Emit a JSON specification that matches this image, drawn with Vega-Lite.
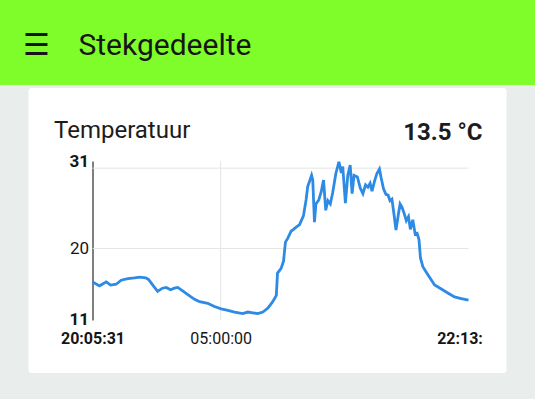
{
  "$schema": "https://vega.github.io/schema/vega-lite/v6.json",
  "background": "#e9eeec",
  "padding": 0,
  "spacing": 3,
  "center": true,
  "config": {"font": "Roboto", "view": {"stroke": null}},
  "vconcat": [
    {
      "width": 535,
      "height": 85,
      "view": {"fill": "#7ffd2b", "stroke": null},
      "title": {"text": "☰ \u00a0\u00a0\u2009Stekgedeelte", "anchor": "start", "frame": "group", "orient": "top", "offset": -85, "baseline": "alphabetic", "dx": 23, "fontSize": 30, "fontWeight": "normal", "font": "Roboto", "color": "#161616"},
      "data": {"values": [{"s": ""}]},
      "mark": "text",
      "encoding": {"text": {"field": "s"}}
    },
    {
      "spacing": 23,
      "center": true,
      "vconcat": [
        {
          "width": 478,
          "height": 285,
          "view": {"fill": "#ffffff", "stroke": null, "cornerRadius": 3},
          "title": {"text": "13.5 °C", "anchor": "end", "frame": "group", "orient": "top", "offset": -76, "baseline": "alphabetic", "dx": -24, "fontSize": 24, "fontWeight": "bold", "font": "Roboto", "color": "#1c1c1c"},
          "layer": [
            {
              "data": {"values": [{"v": 30.1}, {"v": 20}]},
              "mark": {"type": "rule", "color": "#e4e4e4", "strokeWidth": 1},
              "encoding": {
                "x": {"datum": {"year": 2019, "month": 5, "date": 13, "hours": 20, "minutes": 5, "seconds": 31}, "type": "temporal"},
                "x2": {"datum": {"year": 2019, "month": 5, "date": 14, "hours": 22, "minutes": 13, "seconds": 19}},
                "y": {"field": "v", "type": "quantitative"}
              }
            },
            {
              "data": {"values": [{"t": "2019-05-14T05:00:00"}]},
              "mark": {"type": "rule", "color": "#e4e4e4", "strokeWidth": 1},
              "encoding": {
                "x": {"field": "t", "type": "temporal"},
                "y": {"datum": 11, "type": "quantitative"},
                "y2": {"datum": 31}
              }
            },
            {
              "data": {"values": [
                {"t": "2019-05-13T20:05:31", "v": 15.8},
                {"t": "2019-05-13T20:28:00", "v": 15.4},
                {"t": "2019-05-13T20:35:00", "v": 15.3},
                {"t": "2019-05-13T21:03:00", "v": 15.8},
                {"t": "2019-05-13T21:21:00", "v": 15.4},
                {"t": "2019-05-13T21:44:00", "v": 15.5},
                {"t": "2019-05-13T22:05:00", "v": 16.0},
                {"t": "2019-05-13T22:33:00", "v": 16.2},
                {"t": "2019-05-13T23:01:00", "v": 16.3},
                {"t": "2019-05-13T23:22:00", "v": 16.4},
                {"t": "2019-05-13T23:47:00", "v": 16.3},
                {"t": "2019-05-13T23:59:00", "v": 16.1},
                {"t": "2019-05-14T00:17:00", "v": 15.4},
                {"t": "2019-05-14T00:37:00", "v": 14.6},
                {"t": "2019-05-14T00:57:00", "v": 15.0},
                {"t": "2019-05-14T01:13:00", "v": 15.1},
                {"t": "2019-05-14T01:31:00", "v": 14.8},
                {"t": "2019-05-14T01:47:00", "v": 15.0},
                {"t": "2019-05-14T02:01:00", "v": 15.1},
                {"t": "2019-05-14T02:20:00", "v": 14.7},
                {"t": "2019-05-14T02:43:00", "v": 14.2},
                {"t": "2019-05-14T03:11:00", "v": 13.6},
                {"t": "2019-05-14T03:32:00", "v": 13.3},
                {"t": "2019-05-14T04:06:00", "v": 13.1},
                {"t": "2019-05-14T04:34:00", "v": 12.7},
                {"t": "2019-05-14T05:02:00", "v": 12.4},
                {"t": "2019-05-14T05:30:00", "v": 12.2},
                {"t": "2019-05-14T05:58:00", "v": 12.0},
                {"t": "2019-05-14T06:32:00", "v": 11.8},
                {"t": "2019-05-14T06:53:00", "v": 12.0},
                {"t": "2019-05-14T07:14:00", "v": 11.9},
                {"t": "2019-05-14T07:35:00", "v": 11.8},
                {"t": "2019-05-14T07:56:00", "v": 12.0},
                {"t": "2019-05-14T08:17:00", "v": 12.5},
                {"t": "2019-05-14T08:37:00", "v": 13.3},
                {"t": "2019-05-14T08:52:00", "v": 14.1},
                {"t": "2019-05-14T08:57:00", "v": 16.9},
                {"t": "2019-05-14T09:12:00", "v": 17.5},
                {"t": "2019-05-14T09:22:00", "v": 18.4},
                {"t": "2019-05-14T09:30:00", "v": 20.8},
                {"t": "2019-05-14T09:40:00", "v": 21.3},
                {"t": "2019-05-14T09:54:00", "v": 22.2},
                {"t": "2019-05-14T10:04:00", "v": 22.4},
                {"t": "2019-05-14T10:15:00", "v": 22.7},
                {"t": "2019-05-14T10:29:00", "v": 23.0},
                {"t": "2019-05-14T10:45:00", "v": 24.1},
                {"t": "2019-05-14T10:56:00", "v": 26.1},
                {"t": "2019-05-14T11:03:00", "v": 27.8},
                {"t": "2019-05-14T11:10:00", "v": 28.4},
                {"t": "2019-05-14T11:19:00", "v": 29.2},
                {"t": "2019-05-14T11:24:00", "v": 28.6},
                {"t": "2019-05-14T11:31:00", "v": 23.3},
                {"t": "2019-05-14T11:37:00", "v": 25.6},
                {"t": "2019-05-14T11:49:00", "v": 26.1},
                {"t": "2019-05-14T11:59:00", "v": 27.1},
                {"t": "2019-05-14T12:09:00", "v": 28.6},
                {"t": "2019-05-14T12:18:00", "v": 24.8},
                {"t": "2019-05-14T12:27:00", "v": 26.0},
                {"t": "2019-05-14T12:37:00", "v": 25.6},
                {"t": "2019-05-14T12:47:00", "v": 27.0},
                {"t": "2019-05-14T13:00:00", "v": 29.4},
                {"t": "2019-05-14T13:13:00", "v": 30.9},
                {"t": "2019-05-14T13:23:00", "v": 29.5},
                {"t": "2019-05-14T13:29:00", "v": 30.3},
                {"t": "2019-05-14T13:40:00", "v": 25.7},
                {"t": "2019-05-14T13:50:00", "v": 29.2},
                {"t": "2019-05-14T14:00:00", "v": 30.5},
                {"t": "2019-05-14T14:08:00", "v": 26.9},
                {"t": "2019-05-14T14:16:00", "v": 29.2},
                {"t": "2019-05-14T14:30:00", "v": 29.0},
                {"t": "2019-05-14T14:42:00", "v": 27.6},
                {"t": "2019-05-14T14:53:00", "v": 26.9},
                {"t": "2019-05-14T15:04:00", "v": 28.0},
                {"t": "2019-05-14T15:14:00", "v": 27.7},
                {"t": "2019-05-14T15:23:00", "v": 28.2},
                {"t": "2019-05-14T15:31:00", "v": 27.2},
                {"t": "2019-05-14T15:41:00", "v": 28.4},
                {"t": "2019-05-14T15:51:00", "v": 29.4},
                {"t": "2019-05-14T16:02:00", "v": 30.0},
                {"t": "2019-05-14T16:09:00", "v": 28.9},
                {"t": "2019-05-14T16:19:00", "v": 27.5},
                {"t": "2019-05-14T16:29:00", "v": 26.8},
                {"t": "2019-05-14T16:38:00", "v": 26.7},
                {"t": "2019-05-14T16:46:00", "v": 26.0},
                {"t": "2019-05-14T16:54:00", "v": 26.2},
                {"t": "2019-05-14T17:03:00", "v": 24.2},
                {"t": "2019-05-14T17:11:00", "v": 22.3},
                {"t": "2019-05-14T17:21:00", "v": 24.3},
                {"t": "2019-05-14T17:28:00", "v": 25.6},
                {"t": "2019-05-14T17:36:00", "v": 25.2},
                {"t": "2019-05-14T17:44:00", "v": 24.5},
                {"t": "2019-05-14T17:54:00", "v": 23.5},
                {"t": "2019-05-14T18:03:00", "v": 24.0},
                {"t": "2019-05-14T18:11:00", "v": 22.4},
                {"t": "2019-05-14T18:21:00", "v": 23.6},
                {"t": "2019-05-14T18:31:00", "v": 21.8},
                {"t": "2019-05-14T18:39:00", "v": 21.9},
                {"t": "2019-05-14T18:47:00", "v": 21.1},
                {"t": "2019-05-14T18:53:00", "v": 18.8},
                {"t": "2019-05-14T19:03:00", "v": 17.7},
                {"t": "2019-05-14T19:24:00", "v": 16.7},
                {"t": "2019-05-14T19:52:00", "v": 15.4},
                {"t": "2019-05-14T20:20:00", "v": 14.9},
                {"t": "2019-05-14T20:47:00", "v": 14.4},
                {"t": "2019-05-14T21:15:00", "v": 13.9},
                {"t": "2019-05-14T21:43:00", "v": 13.7},
                {"t": "2019-05-14T22:13:19", "v": 13.5}
              ]},
              "mark": {"type": "line", "color": "#2d8ae5", "strokeWidth": 2.8},
              "encoding": {
                "x": {
                  "field": "t",
                  "type": "temporal",
                  "scale": {
                    "domain": [
                      {"year": 2019, "month": 5, "date": 13, "hours": 20, "minutes": 5, "seconds": 31},
                      {"year": 2019, "month": 5, "date": 14, "hours": 22, "minutes": 13, "seconds": 19}
                    ],
                    "range": [64, 440],
                    "nice": false
                  },
                  "axis": {
                    "title": null,
                    "offset": -53,
                    "values": [
                      {"year": 2019, "month": 5, "date": 13, "hours": 20, "minutes": 5, "seconds": 31},
                      {"year": 2019, "month": 5, "date": 14, "hours": 5, "minutes": 0, "seconds": 0},
                      {"year": 2019, "month": 5, "date": 14, "hours": 22, "minutes": 13, "seconds": 19}
                    ],
                    "labelExpr": "hours(datum.value) == 22 ? '22:13:' : timeFormat(datum.value, '%H:%M:%S')",
                    "grid": false,
                    "domain": false,
                    "ticks": false,
                    "tickSize": 0,
                    "labelPadding": 10,
                    "labelFontSize": 16,
                    "labelColor": "#151515",
                    "labelFlush": false,
                    "labelOverlap": false,
                    "labelFontWeight": {"condition": {"test": "hours(datum.value) == 5", "value": "normal"}, "value": "bold"},
                    "labelOffset": {"condition": {"test": "hours(datum.value) == 22", "value": -9}, "value": 0}
                  }
                },
                "y": {
                  "field": "v",
                  "type": "quantitative",
                  "scale": {"domain": [11, 31], "range": [232, 73], "nice": false, "zero": false},
                  "axis": {
                    "title": "Temperatuur",
                    "titleAngle": 0,
                    "titleAlign": "left",
                    "titleBaseline": "alphabetic",
                    "titleX": -39,
                    "titleY": 49,
                    "titleFontSize": 24,
                    "titleFontWeight": "normal",
                    "titleColor": "#1c1c1c",
                    "offset": -64,
                    "values": [11, 20, 31],
                    "grid": false,
                    "domain": true,
                    "domainColor": "#555555",
                    "domainWidth": 1.5,
                    "ticks": false,
                    "tickSize": 0,
                    "labelPadding": 4,
                    "labelFontSize": 17,
                    "labelColor": "#151515",
                    "labelFlush": false,
                    "labelOverlap": false,
                    "labelOffset": {"condition": {"test": "datum.value == 11", "value": -1}, "value": 0},
                    "labelFontWeight": {"condition": {"test": "datum.value == 20", "value": "normal"}, "value": "bold"}
                  }
                }
              }
            }
          ]
        },
        {
          "width": 478,
          "height": 3,
          "view": {"fill": "#ffffff", "stroke": null},
          "data": {"values": [{"s": ""}]},
          "mark": "text",
          "encoding": {"text": {"field": "s"}}
        }
      ]
    }
  ]
}
